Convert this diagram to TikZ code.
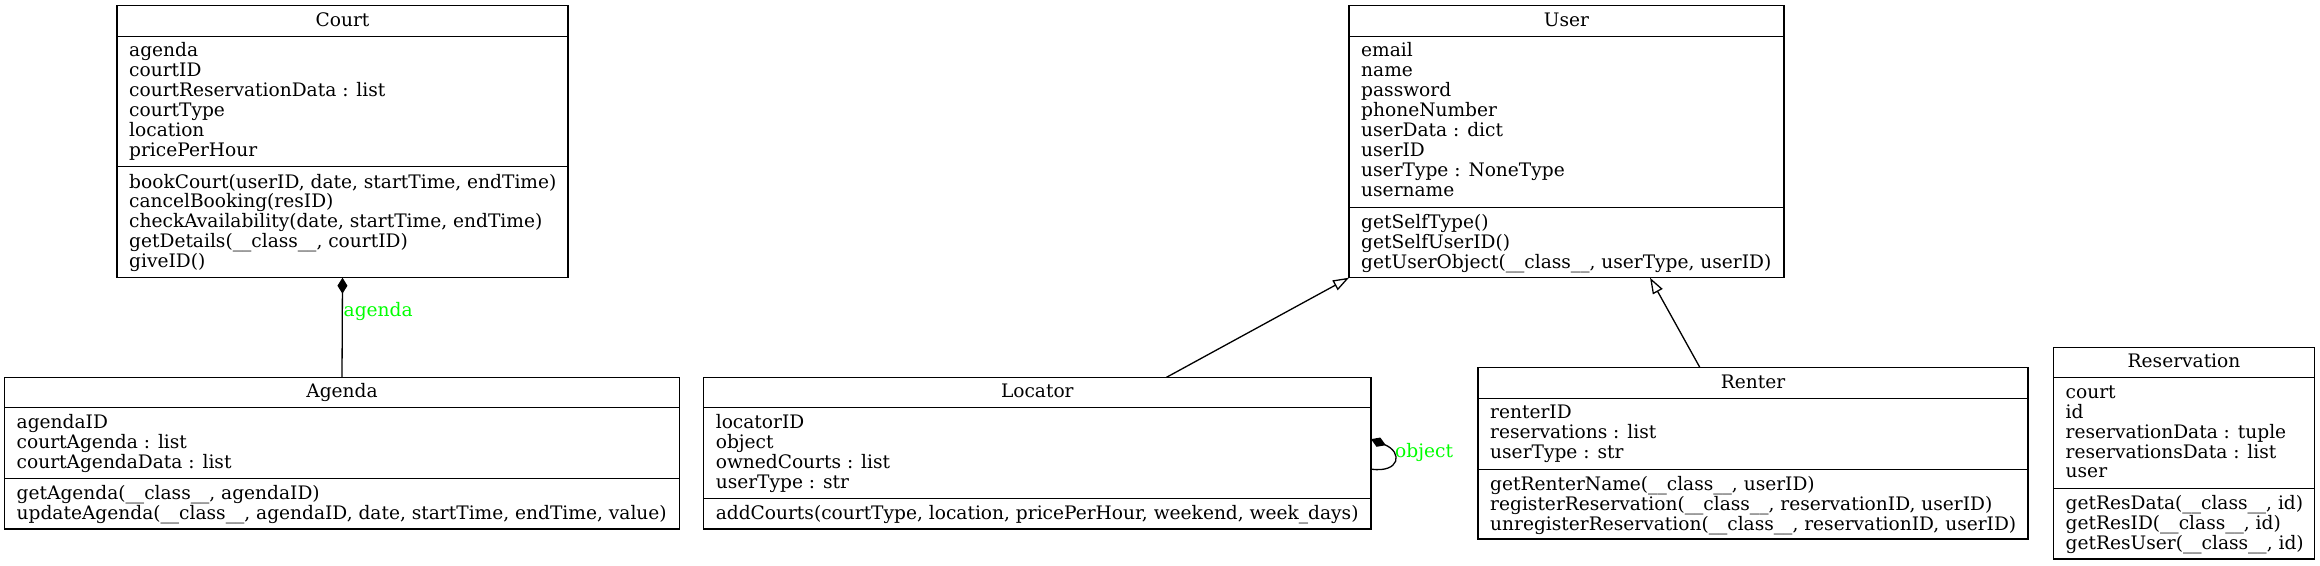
\documentclass[tikz,border=0pt]{standalone}
\usepackage{fontspec}
\setmainfont{DejaVu Serif}
\usetikzlibrary{arrows.meta}
\definecolor{lblgreen}{RGB}{0,255,0}
\tikzset{
  box/.style={draw, rectangle, line width=1.3pt, inner sep=0pt, outer sep=0pt, anchor=north west},
  sepline/.style={line width=1.3pt},
  txt/.style={font=\fontsize{18.6}{20}\selectfont, inner sep=0pt, anchor=base west},
  ttl/.style={font=\fontsize{18.6}{20}\selectfont, inner sep=0pt, anchor=base},
  edge/.style={line width=1.3pt},
  lbl/.style={font=\fontsize{18.6}{20}\selectfont, text=lblgreen, inner sep=0pt, anchor=base west},
  comp/.style={{Diamond[length=16pt,width=10pt]}-},
  gen/.style={-{Triangle[open,fill=white,length=16pt,width=11pt]}}
}
% #1 name, #2 left, #3 top, #4 right, #5 bottom, #6 second separator, #7 title, #8 attributes, #9 methods
\newcommand\umlclass[9]{%
  \node[box, minimum width={(#4-#2)*1pt}, minimum height={(#5-#3)*1pt}] (#1) at (#2,#3) {};
  \draw[sepline] ([yshift=-30.5pt]#1.north west) -- ([yshift=-30.5pt]#1.north east);
  \draw[sepline] ([yshift={-(#6-#3)*1pt}]#1.north west) -- ([yshift={-(#6-#3)*1pt}]#1.north east);
  \node[ttl] (#1-t) at ({(#2+#4)/2}, #3+20.5) {#7};
  \foreach \myitem [count=\myidx from 0] in {#8}
    \node[txt] (#1-a\myidx) at (#2+12, {#3+51+19.9*\myidx}) {\myitem};
  \foreach \myitem [count=\myidx from 0] in {#9}
    \node[txt] (#1-m\myidx) at (#2+12, {#6+21.3+19.9*\myidx}) {\myitem};
}
\begin{document}
\begin{tikzpicture}[x=1pt,y=-1pt]
\fill[white] (0,0) rectangle (2320,565);
\useasboundingbox (0,0) rectangle (2320,565);

\umlclass{court}{117}{5.7}{568}{277.7}{166.7}{Court}
  {agenda, courtID, courtReservationData : list, courtType, location, pricePerHour}
  {{bookCourt(userID, date, startTime, endTime)}, cancelBooking(resID), {checkAvailability(date, startTime, endTime)}, {getDetails(\_\_class\_\_, courtID)}, giveID()}

\umlclass{user}{1349}{5.7}{1784}{277.7}{207.3}{User}
  {email, name, password, phoneNumber, userData : dict, userID, userType : NoneType, username}
  {getSelfType(), getSelfUserID(), {getUserObject(\_\_class\_\_, userType, userID)}}

\umlclass{agenda}{4.5}{377.3}{679.5}{529}{478.5}{Agenda}
  {agendaID, courtAgenda : list, courtAgendaData : list}
  {{getAgenda(\_\_class\_\_, agendaID)}, {updateAgenda(\_\_class\_\_, agendaID, date, startTime, endTime, value)}}

\umlclass{locator}{703.6}{377.3}{1371}{529}{498.3}{Locator}
  {locatorID, object, ownedCourts : list, userType : str}
  {{addCourts(courtType, location, pricePerHour, weekend, week\_days)}}

\umlclass{renter}{1478}{367.7}{2028}{539}{469.3}{Renter}
  {renterID, reservations : list, userType : str}
  {{getRenterName(\_\_class\_\_, userID)}, {registerReservation(\_\_class\_\_, reservationID, userID)}, {unregisterReservation(\_\_class\_\_, reservationID, userID)}}

\umlclass{reservation}{2053.5}{347.3}{2314.5}{559}{488.3}{Reservation}
  {court, id, reservationData : tuple, reservationsData : list, user}
  {{getResData(\_\_class\_\_, id)}, {getResID(\_\_class\_\_, id)}, {getResUser(\_\_class\_\_, id)}}

% composition Court <- Agenda
\draw[edge, -{Diamond[length=16pt,width=10pt]}] (agenda.north) -- (court.south);
\node[lbl] (lblagenda) at ([xshift=1pt,yshift=-38.8pt]court.south) {agenda};

% generalizations
\draw[edge, gen] ([xshift=129.2pt]locator.north) -- (user.south west);
\draw[edge, gen] ([xshift=-53pt]renter.north) -- ([xshift=83.5pt]user.south);

% self composition on Locator
\draw[edge, comp] ([yshift=14pt]locator.east) .. controls ([xshift=32pt,yshift=1pt]locator.east) and ([xshift=29pt,yshift=-20pt]locator.east) .. ([yshift=-16pt]locator.east);
\node[lbl] (lblobject) at ([xshift=24pt,yshift=-4.2pt]locator.east) {object};
\end{tikzpicture}
\end{document}
